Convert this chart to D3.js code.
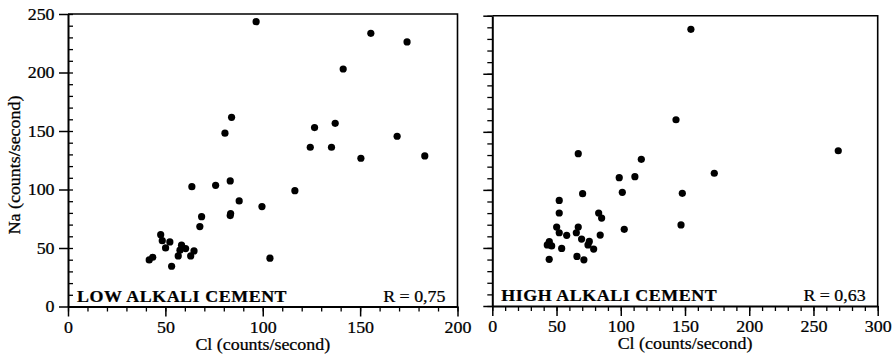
<!DOCTYPE html>
<html>
<head>
<style>
  body {
    margin: 0;
    background-color: #fff;
  }

  text {
    font-family: "Liberation Serif", "DejaVu Serif", serif;
    fill: #000;
    stroke: #000;
    stroke-width: 0.25;
  }

  .domain, .tick line {
    stroke: #000;
  }
</style>
  <script src="https://d3js.org/d3.v7.min.js"></script>
</head>
<body>
<script>
  // low alkali cement: [Cl, Na] in counts/second
  const lowCl = [41.7, 43.5, 47.6, 48.4, 50.1, 52.3, 53.2, 56.6, 57.5, 58.3, 60.4, 63.0, 64.7,
    63.6, 67.7, 68.6, 75.8, 83.3, 87.9, 83.3, 83.5, 80.6, 84.0, 96.6, 99.6, 103.7, 116.5,
    124.4, 126.6, 135.3, 137.2, 141.3, 150.4, 155.5, 169.0, 174.1, 183.2];
  const lowNa = [39.8, 42.1, 61.4, 56.3, 50.1, 55.2, 34.4, 43.2, 48.1, 52.4, 49.5, 43.2, 47.5,
    102.4, 68.3, 76.8, 103.6, 107.3, 90.2, 77.7, 79.5, 148.1, 161.7, 243.4, 85.4, 41.3, 99.0,
    136.1, 152.9, 136.1, 156.6, 203.0, 126.7, 233.5, 145.5, 226.1, 128.7];

  // high alkali cement
  const highCl = [42.8, 44.3, 44.4, 46.2, 50.1, 52.1, 52.1, 52.1, 54.0, 57.9, 65.4, 65.9, 66.9,
    66.9, 69.5, 70.3, 71.3, 74.5, 75.5, 78.9, 82.8, 84.0, 85.1, 98.8, 101.2, 102.7, 111.0,
    116.0, 143.0, 146.9, 147.9, 154.6, 172.8, 269.3];
  const highNa = [52.6, 40.2, 55.4, 51.7, 68.0, 63.1, 80.1, 90.9, 49.6, 60.9, 63.1, 42.7, 68.0,
    131.2, 57.6, 96.7, 39.8, 52.6, 55.6, 49.0, 80.1, 61.1, 75.7, 110.5, 97.9, 66.0, 111.4,
    126.3, 160.4, 69.8, 97.0, 238.3, 114.3, 133.7];

  const yTicks = [0, 50, 100, 150, 200, 250];
  const lowXTicks = [0, 50, 100, 150, 200];
  const highXTicks = [0, 50, 100, 150, 200, 250, 300];

  const panels = [
    {
      cl: lowCl, na: lowNa, xMax: 200, xTicks: lowXTicks,
      left: 68, right: 457.5, top: 14, bottom: 306.5,
      label: 'LOW ALKALI CEMENT', r: 'R = 0,75', yLabels: true, minorIn: true,
    },
    {
      cl: highCl, na: highNa, xMax: 300, xTicks: highXTicks,
      left: 492.3, right: 877.7, top: 15.7, bottom: 306,
      label: 'HIGH ALKALI CEMENT', r: 'R = 0,63', yLabels: false, minorIn: false,
    },
  ];

  const width = 896;
  const height = 357;
  const stretch = 1.12; // the scan is a bit wider than plain Times

  const svg = d3.select('body')
    .append('svg')
    .attr('width', width)
    .attr('height', height);

  const widen = (sel) => sel.each(function () {
    const t = d3.select(this);
    const old = t.attr('transform') || '';
    t.attr('transform', old + ` scale(${stretch},1)`);
  });

  panels.forEach((p) => {
    const x = d3.scaleLinear().domain([0, p.xMax]).range([p.left, p.right]);
    const y = d3.scaleLinear().domain([0, 250]).range([p.bottom, p.top]);
    const g = svg.append('g');

    // frame: top and right sides
    g.append('path')
      .attr('d', `M${p.left},${p.top}H${p.right}V${p.bottom}`)
      .attr('fill', 'none')
      .attr('stroke', '#000')
      .attr('stroke-width', 1.6);

    // minor ticks every 10
    const xMinor = d3.range(0, p.xMax + 1, 10);
    const yMinor = d3.range(0, 251, 10);

    g.append('g')
      .attr('transform', `translate(0,${p.bottom})`)
      .call(d3.axisBottom(x).tickValues(xMinor).tickSize(5).tickFormat(''))
      .call(a => a.select('.domain').remove())
      .selectAll('line').attr('stroke-width', 1.3);

    const yMinorAxis = p.minorIn ? d3.axisRight(y) : d3.axisLeft(y);
    g.append('g')
      .attr('transform', `translate(${p.left},0)`)
      .call(yMinorAxis.tickValues(yMinor).tickSize(5).tickFormat(''))
      .call(a => a.select('.domain').remove())
      .selectAll('line').attr('stroke-width', 1.3);

    // major ticks
    const xAxis = g.append('g')
      .attr('transform', `translate(0,${p.bottom})`)
      .call(d3.axisBottom(x).tickValues(p.xTicks).tickSize(10).tickSizeOuter(0).tickPadding(5));
    xAxis.select('.domain').attr('stroke-width', 2);
    xAxis.selectAll('line').attr('stroke-width', 1.5);
    xAxis.selectAll('text').attr('font-size', 16).attr('font-family', 'Liberation Serif');
    widen(xAxis.selectAll('text'));

    const yAxis = g.append('g')
      .attr('transform', `translate(${p.left},0)`)
      .call(d3.axisLeft(y).tickValues(yTicks).tickSize(9).tickSizeOuter(0).tickPadding(3)
        .tickFormat(p.yLabels ? d3.format('d') : ''));
    yAxis.select('.domain').attr('stroke-width', 2);
    yAxis.selectAll('line').attr('stroke-width', 1.5);
    yAxis.selectAll('text').attr('font-size', 16).attr('font-family', 'Liberation Serif');
    widen(yAxis.selectAll('text'));

    // points
    g.selectAll('circle')
      .data(p.cl.map((c, i) => [c, p.na[i]]))
      .join('circle')
      .attr('cx', d => x(d[0]))
      .attr('cy', d => y(d[1]))
      .attr('r', 3.6)
      .attr('fill', '#000');

    // x title
    g.append('text')
      .attr('transform', `translate(${(p.left + p.right) / 2},${p.bottom + 43})`)
      .attr('text-anchor', 'middle')
      .attr('font-size', 16)
      .text('Cl (counts/second)')
      .call(widen);

    // cement label and R
    g.append('text')
      .attr('transform', `translate(${p.left + 9},${p.bottom - 5})`)
      .attr('font-size', 16)
      .attr('font-weight', 'bold')
      .attr('letter-spacing', 0.5)
      .text(p.label)
      .call(widen);

    g.append('text')
      .attr('transform', `translate(${p.right - 12},${p.bottom - 5})`)
      .attr('text-anchor', 'end')
      .attr('font-size', 16)
      .text(p.r)
      .call(widen);
  });

  // y title, only on the left panel
  svg.append('text')
    .attr('transform', 'translate(20,165) rotate(-90)')
    .attr('text-anchor', 'middle')
    .attr('font-size', 16)
    .text('Na (counts/second)')
    .call(widen);
</script>
</body>
</html>
